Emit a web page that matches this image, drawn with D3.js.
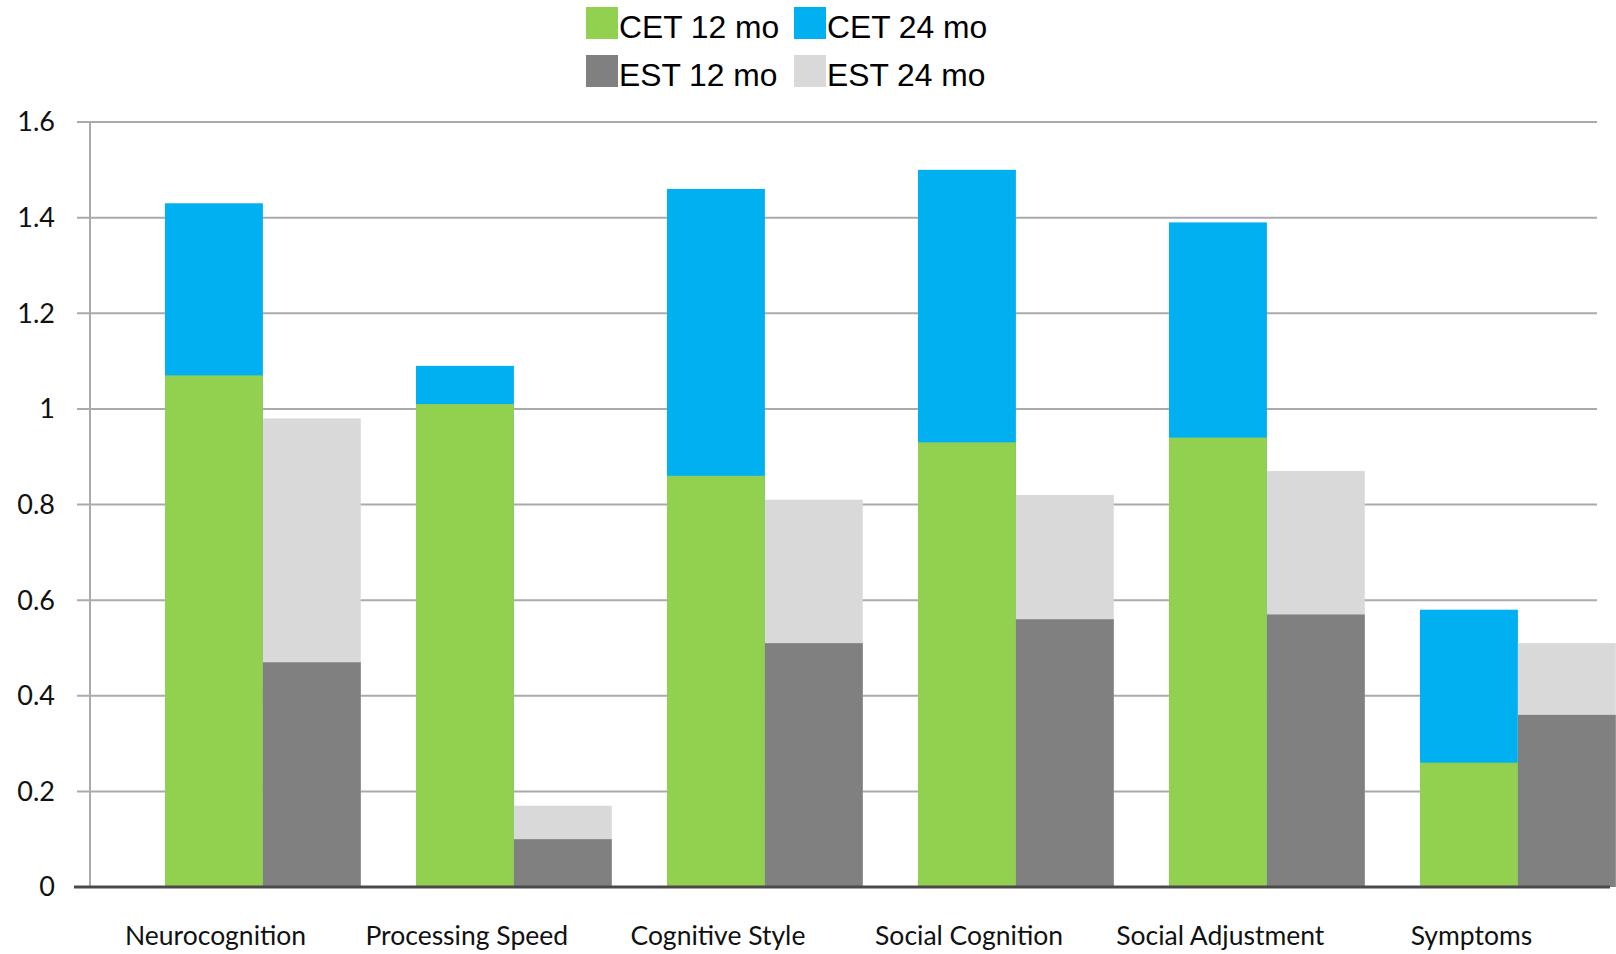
<!DOCTYPE html>
<html>
<head>
<meta charset="utf-8">
<script src="https://cdn.jsdelivr.net/npm/d3@7"></script>
<style>
  html, body { margin: 0; padding: 0; background: #ffffff; }
  svg { display: block; }
</style>
</head>
<body>
<svg id="chart" width="1616" height="954"></svg>
<script>
// ---- data ----
const categories = ["Neurocognition", "Processing Speed", "Cognitive Style", "Social Cognition", "Social Adjustment", "Symptoms"];
const cet12 = [1.07, 1.01, 0.86, 0.93, 0.94, 0.26];
const cet24 = [1.43, 1.09, 1.46, 1.50, 1.39, 0.58];
const est12 = [0.47, 0.10, 0.51, 0.56, 0.57, 0.36];
const est24 = [0.98, 0.17, 0.81, 0.82, 0.87, 0.51];
const yTicks = [0, 0.2, 0.4, 0.6, 0.8, 1, 1.2, 1.4, 1.6];
const legendLabels = ["CET 12 mo", "CET 24 mo", "EST 12 mo", "EST 24 mo"];
const colors = { cet12: "#92D050", cet24: "#00B0F0", est12: "#808080", est24: "#D9D9D9" };

// ---- layout ----
const svg = d3.select("#chart");
const plotLeft = 90, plotRight = 1597;
const y = d3.scaleLinear().domain([0, 1.6]).range([887, 122]);

// axis categories (label positions)
const xAxisBand = d3.scaleBand().domain(categories).range([plotLeft, plotRight]).padding(0);
// bar groups (shifted relative to labels as in the reference)
const xBars = d3.scaleBand().domain(categories).range([137.4, 1643.4]).paddingInner(0.22).paddingOuter(0.11);
const xSub = d3.scaleBand().domain(["CET", "EST"]).range([0, xBars.bandwidth()]).padding(0);

const labelFont = "Lato, 'Open Sans', sans-serif";

// gridlines
svg.append("g").selectAll("line").data(yTicks.filter(d => d > 0)).join("line")
  .attr("x1", 77).attr("x2", plotRight)
  .attr("y1", d => y(d)).attr("y2", d => y(d))
  .attr("stroke", "#AAAAAA").attr("stroke-width", 2);

// y axis line
svg.append("line")
  .attr("x1", plotLeft).attr("x2", plotLeft)
  .attr("y1", y(1.6)).attr("y2", y(0))
  .attr("stroke", "#AAAAAA").attr("stroke-width", 2);

// y tick labels
svg.append("g").selectAll("text").data(yTicks).join("text")
  .attr("x", 55).attr("y", d => y(d))
  .attr("dy", "0.35em")
  .attr("text-anchor", "end")
  .attr("font-family", labelFont)
  .attr("font-size", 27)
  .attr("fill", "#111")
  .text(d => d3.format("~g")(d));

// bars
const rows = categories.map((c, i) => ({ c, cet12: cet12[i], cet24: cet24[i], est12: est12[i], est24: est24[i] }));
const groups = svg.append("g").selectAll("g").data(rows).join("g")
  .attr("transform", d => `translate(${xBars(d.c)},0)`);

function drawBar(sel, sub, key) {
  sel.append("rect")
    .attr("x", xSub(sub))
    .attr("width", xSub.bandwidth())
    .attr("y", d => y(d[key]))
    .attr("height", d => y(0) - y(d[key]))
    .attr("fill", colors[key]);
}
drawBar(groups, "CET", "cet24");
drawBar(groups, "CET", "cet12");
drawBar(groups, "EST", "est24");
drawBar(groups, "EST", "est12");

// x axis line
svg.append("line")
  .attr("x1", 74).attr("x2", 1610)
  .attr("y1", y(0)).attr("y2", y(0))
  .attr("stroke", "#4A4A4A").attr("stroke-width", 3);

// category labels
svg.append("g").selectAll("text").data(categories).join("text")
  .attr("x", d => xAxisBand(d) + xAxisBand.bandwidth() / 2)
  .attr("y", 936)
  .attr("dy", "0.35em")
  .attr("text-anchor", "middle")
  .attr("font-family", labelFont)
  .attr("font-size", 26.5)
  .attr("fill", "#111")
  .text(d => d);

// legend
const legendItems = [
  { label: legendLabels[0], color: colors.cet12, col: 0, row: 0 },
  { label: legendLabels[1], color: colors.cet24, col: 1, row: 0 },
  { label: legendLabels[2], color: colors.est12, col: 0, row: 1 },
  { label: legendLabels[3], color: colors.est24, col: 1, row: 1 }
];
const legend = svg.append("g").selectAll("g").data(legendItems).join("g")
  .attr("transform", d => `translate(${586 + d.col * 208},${7 + d.row * 48})`);
legend.append("rect").attr("width", 32).attr("height", 32).attr("fill", d => d.color);
legend.append("text")
  .attr("x", 33).attr("y", 31)
  .attr("font-family", "'Liberation Sans', Arial, sans-serif")
  .attr("font-size", 31.8)
  .attr("fill", "#000")
  .text(d => d.label);
</script>
</body>
</html>
